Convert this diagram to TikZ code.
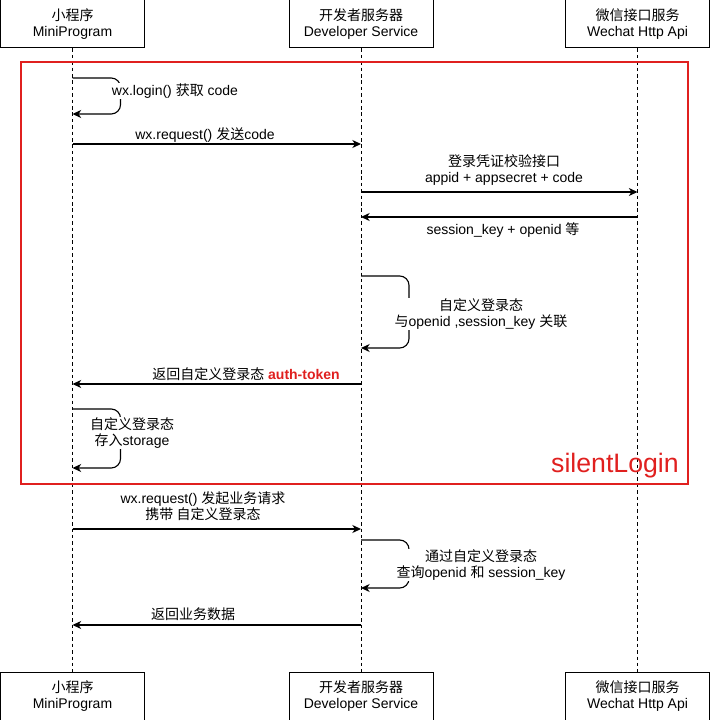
\documentclass[tikz,border=0pt]{standalone}
\usepackage{fontspec}
\usepackage{xcolor}
\setmainfont{Liberation Sans}
\newfontfamily\cjk{Noto Sans CJK SC}
\newcommand\zh[1]{{\cjk #1}}
\usetikzlibrary{arrows.meta, positioning, calc}
\definecolor{loginred}{HTML}{E0201F}

\begin{document}
\begin{tikzpicture}[
  x=0.75pt, y=-0.75pt,
  font=\fontsize{10.5}{12}\selectfont,
  actor/.style={rectangle, draw=black, line width=0.75pt, fill=white, minimum width=108pt, minimum height=36pt, align=center, inner sep=0pt},
  lifeline/.style={draw=black, line width=0.6pt, dash pattern=on 2.6pt off 2.2pt},
  msg/.style={-{Stealth[length=6.5pt, width=6pt, inset=2pt]}, draw=black, line width=0.85pt},
  selfmsg/.style={msg, rounded corners=7pt},
  lbl/.style={align=center, fill=white, inner sep=0.5pt},
  group/.style={draw=loginred, line width=1.5pt}
]
  \useasboundingbox (0,0) rectangle (710,720);

  % Actors
  \node[actor] (miniTop) at (72.5, 24) {\zh{小程序}\\MiniProgram};
  \node[actor] (devTop) at (361, 24) {\zh{开发者服务器}\\Developer Service};
  \node[actor] (wxTop) at (637.5, 24) {\zh{微信接口服务}\\Wechat Http Api};
  \node[actor] (miniBot) at (72.5, 696) {\zh{小程序}\\MiniProgram};
  \node[actor] (devBot) at (361, 696) {\zh{开发者服务器}\\Developer Service};
  \node[actor] (wxBot) at (637.5, 696) {\zh{微信接口服务}\\Wechat Http Api};

  % Lifelines
  \draw[lifeline] (miniTop.south) -- (miniBot.north);
  \draw[lifeline] (devTop.south) -- (devBot.north);
  \draw[lifeline] (wxTop.south) -- (wxBot.north);

  % silentLogin frame
  \coordinate (frameNW) at (21, 62);
  \coordinate (frameSE) at (688, 484);
  \draw[group] (frameNW) rectangle (frameSE);
  \node[anchor=base east, text=loginred, font=\fontsize{20}{24}\selectfont, inner sep=0pt] (silent) at (679, 472) {silentLogin};

  % Message end points
  \coordinate (a1) at (72.5, 78);   \coordinate (b1) at (72.5, 114);
  \coordinate (a2) at (72.5, 144);  \coordinate (b2) at (361, 144);
  \coordinate (a3) at (361, 192);   \coordinate (b3) at (637.5, 192);
  \coordinate (a4) at (637.5, 217); \coordinate (b4) at (361, 217);
  \coordinate (a5) at (361, 276);   \coordinate (b5) at (361, 348);
  \coordinate (a6) at (361, 384);   \coordinate (b6) at (72.5, 384);
  \coordinate (a7) at (72.5, 409);  \coordinate (b7) at (72.5, 468);
  \coordinate (a8) at (72.5, 529);  \coordinate (b8) at (361, 529);
  \coordinate (a9) at (361, 540);   \coordinate (b9) at (361, 588);
  \coordinate (a10) at (361, 625);  \coordinate (b10) at (72.5, 625);

  % Messages
  \draw[selfmsg] (a1) -- ++(48,0) |- (b1);
  \draw[msg] (a2) -- (b2);
  \draw[msg] (a3) -- (b3);
  \draw[msg] (a4) -- (b4);
  \draw[selfmsg] (a5) -- ++(48,0) |- (b5);
  \draw[msg] (a6) -- (b6);
  \draw[selfmsg] (a7) -- ++(48,0) |- (b7);
  \draw[msg] (a8) -- (b8);
  \draw[selfmsg] (a9) -- ++(48,0) |- (b9);
  \draw[msg] (a10) -- (b10);

  % Labels
  \node[lbl] (l1) at (175, 91) {wx.login() \zh{获取} code};
  \node[lbl] (l2) at (205, 135) {wx.request() \zh{发送}code};
  \node[lbl] (l3) at (504, 170) {\zh{登录凭证校验接口}\\appid + appsecret + code};
  \node[lbl] (l4) at (503, 230) {session\_key + openid \zh{等}};
  \node[lbl] (l5) at (481, 314) {\zh{自定义登录态}\\\zh{与}openid ,session\_key \zh{关联}};
  \node[lbl] (l6) at (246, 374) {\zh{返回自定义登录态} \textcolor{loginred}{\textbf{auth-token}}};
  \node[lbl] (l7) at (132, 433) {\zh{自定义登录态}\\\zh{存入}storage};
  \node[lbl] (l8) at (203, 506) {wx.request() \zh{发起业务请求}\\\zh{携带 自定义登录态}};
  \node[lbl] (l9) at (481, 565) {\zh{通过自定义登录态}\\\zh{查询}openid \zh{和} session\_key};
  \node[lbl] (l10) at (193, 614) {\zh{返回业务数据}};
\end{tikzpicture}
\end{document}
